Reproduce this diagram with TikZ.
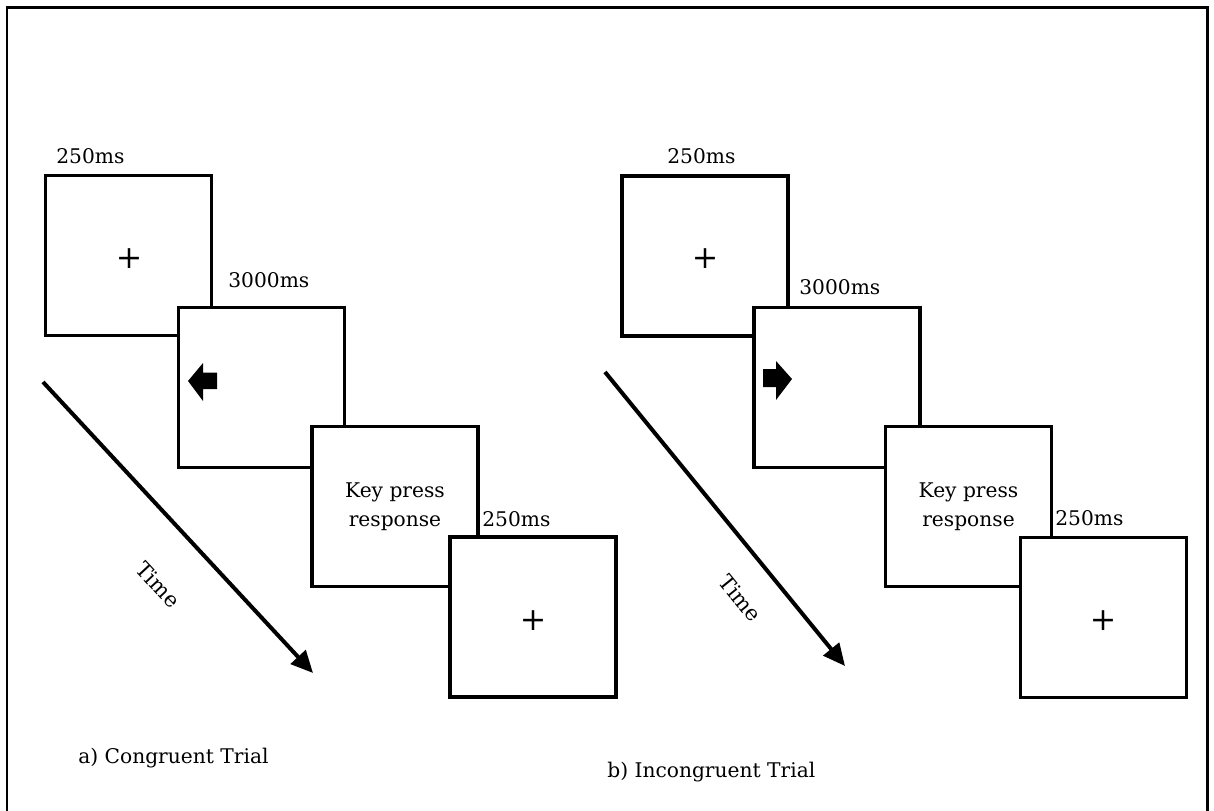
\documentclass[tikz,border=0pt]{standalone}
\usepackage{fontspec}
\setmainfont{DejaVu Serif}
\usetikzlibrary{positioning, arrows.meta}

\begin{document}
\begin{tikzpicture}[x=0.02cm, y=-0.02cm,
    screen/.style={draw, line width=0.075cm, fill=white, minimum width=3.32cm, minimum height=3.2cm, inner sep=0pt, align=center, font=\fontsize{11.5}{16.5}\selectfont},
    dur/.style={anchor=base west, inner sep=0pt, font=\fontsize{11.5}{13}\selectfont},
    fix/.style={inner sep=0pt, font=\fontsize{18}{18}\selectfont},
    cue/.style={fill=black},
    timeline/.style={line width=0.08cm, -{Triangle[length=0.44cm, width=0.4cm]}},
    trial/.style={anchor=base west, inner sep=0pt, font=\fontsize{11.5}{13}\selectfont}]

\useasboundingbox (0,0) rectangle (1214,811);
\draw[line width=0.06cm] (7,8) rectangle (1207,814);

% a) Congruent
\node[screen] (a1) at (128.5,255.5) {};
\node[screen] (a2) at (261.5,387.5) {};
\node[screen] (a3) at (395,506.5) {Key press\\response};
\node[screen] (a4) at (533,617) {};

\node[fix] (fa1) at (129,259) {+};
\node[fix] (fa4) at (533,621) {+};
\fill[cue] (188,381) -- (203,363) -- (203,372.5) -- (217,372.5) -- (217,389) -- (203,389) -- (203,401) -- cycle;

\node[dur] (da1) at (56,163) {250ms};
\node[dur] (da2) at (228,287) {3000ms};
\node[dur] (da4) at (482,526) {250ms};

\coordinate (sa) at (43,382);
\coordinate (ea) at (313,673);
\draw[timeline] (sa) -- (ea);
\node[rotate=-47, font=\fontsize{12}{13}\selectfont] (ta) at (158,585) {Time};

\node[trial] (la) at (78,763) {a) Congruent Trial};

% b) Incongruent
\node[screen] (b1) at (705,256) {};
\node[screen] (b2) at (837,387.5) {};
\node[screen] (b3) at (968.5,506.5) {Key press\\response};
\node[screen] (b4) at (1103.5,617.5) {};

\node[fix] (fb1) at (705,259) {+};
\node[fix] (fb4) at (1103,621) {+};
\fill[cue] (792,379) -- (776,361) -- (776,369) -- (763,369) -- (763,387) -- (776,387) -- (776,400) -- cycle;

\node[dur] (db1) at (667,163) {250ms};
\node[dur] (db2) at (799,294) {3000ms};
\node[dur] (db4) at (1055,525) {250ms};

\coordinate (sb) at (605,372);
\coordinate (eb) at (845,666);
\draw[timeline] (sb) -- (eb);
\node[rotate=-51, font=\fontsize{12}{13}\selectfont] (tb) at (740,598) {Time};

\node[trial] (lb) at (607,777) {b) Incongruent Trial};

\end{tikzpicture}
\end{document}
